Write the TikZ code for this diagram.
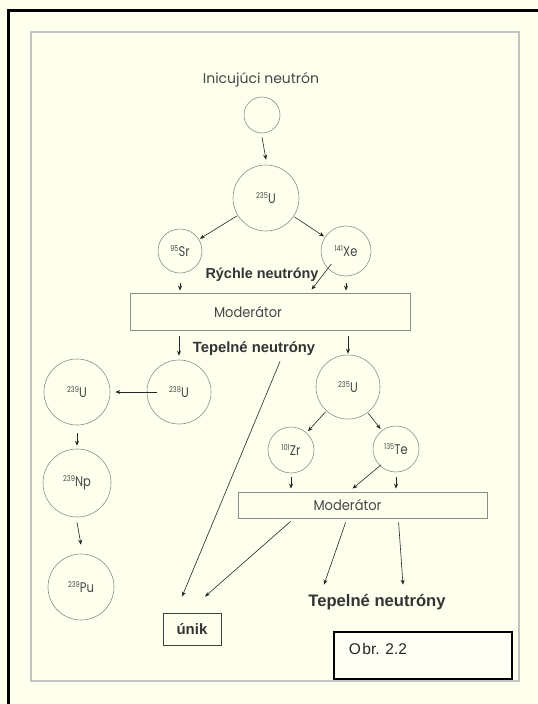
\documentclass[tikz,border=0pt]{standalone}
\usepackage{fontspec}
\setmainfont{Liberation Sans}
\newfontfamily\geo{Poppins}
\usetikzlibrary{arrows.meta,calc}
\definecolor{bgc}{RGB}{255,255,238}
\definecolor{circc}{RGB}{140,140,140}
\definecolor{framec}{RGB}{195,195,195}
\definecolor{txtc}{RGB}{70,70,70}
\newcommand\isot[2]{\scalebox{0.82}[1]{\raisebox{5pt}{\fontsize{8}{9}\selectfont #1}\kern0.2pt{\fontsize{14}{15}\selectfont #2}}}
\tikzset{
  circ/.style={circle,draw=circc,line width=0.6pt,inner sep=0pt,font=\geo,text=txtc},
  arr/.style={draw=black!85,line width=0.6pt,-{Stealth[length=5pt,width=4pt]}},
  modbox/.style={rectangle,draw=circc,line width=0.8pt,inner sep=0pt},
  modtxt/.style={font=\geo\fontsize{13}{14}\selectfont,text=txtc,yscale=1.1},
  boldtxt/.style={font=\bfseries\fontsize{14.4}{16}\selectfont,text=black!80},
  geolbl/.style={font=\geo\fontsize{14}{16}\selectfont,text=txtc}
}
\begin{document}
\begin{tikzpicture}[x=1pt,y=-1pt]
\useasboundingbox (0,0) rectangle (538,704);
\clip (0,0) rectangle (538,704);
\fill[bgc] (0,0) rectangle (538,704);
% outer black frame (right and bottom lie outside)
\draw[line width=3pt,black] (8.5,720) -- (8.5,10.5) -- (560,10.5);
% inner grey frame
\draw[framec,line width=1.2pt] (31,32) rectangle (519,681);

% nodes
\node[geolbl] (init) at (261,80) {Inicujúci neutrón};
\node[circ,minimum size=36pt] (n0) at (262,115) {};
\node[circ,minimum size=66pt] (u1) at (266,198) {\isot{235}{U}};
\node[circ,minimum size=44pt] (sr) at (180,251) {\isot{95}{Sr}};
\node[circ,minimum size=50pt] (xe) at (346,251) {\isot{141}{Xe}};
\node[boldtxt] (fast) at (262,275) {Rýchle neutróny};
\node[modbox,minimum width=280pt,minimum height=37pt] (mod1) at (270,311.5) {};
\node[modtxt] (mod1t) at ([xshift=-22pt]mod1.center) {Moderátor};
\node[boldtxt,font=\bfseries\fontsize{14.8}{16}\selectfont] (tep1) at (254,349) {Tepelné neutróny};
\node[circ,minimum size=64pt] (u238) at (179,392) {\isot{238}{U}};
\node[circ,minimum size=66pt] (u239) at (77,392) {\isot{239}{U}};
\node[circ,minimum size=64pt] (u2) at (348,387) {\isot{235}{U}};
\node[circ,minimum size=46pt] (zr) at (291,450) {\isot{101}{Zr}};
\node[circ,minimum size=46pt] (te) at (396,449) {\isot{135}{Te}};
\node[circ,minimum size=68pt] (np) at (77,483) {\isot{239}{Np}};
\node[circ,minimum size=66pt] (pu) at (81,587) {\isot{239}{Pu}};
\node[modbox,minimum width=249pt,minimum height=26pt] (mod2) at (362.5,505) {};
\node[modtxt] (mod2t) at ([xshift=-15pt]mod2.center) {Moderátor};
\node[font=\bfseries\fontsize{16.6}{18}\selectfont,text=black!80] (tep2) at (377,602) {Tepelné neutróny};
\node[rectangle,draw=black!75,line width=0.8pt,minimum width=58pt,minimum height=32pt,font=\bfseries\fontsize{15}{17}\selectfont,text=black!80] (unik) at (192,629) {únik};
\node[rectangle,draw=black,line width=1.3pt,minimum width=178pt,minimum height=47pt,fill=bgc!60!white] (obr) at (423,655.5) {};
\node[anchor=west,font=\fontsize{15.5}{17}\selectfont,text=black!85] (obrt) at ([xshift=12pt,yshift=-18pt]obr.north west) {O\kern1.5pt br. 2.2};

% connectors
\draw[arr] ([yshift=-4pt]n0.south) -- ([yshift=5pt]u1.north);
\draw[arr,shorten <=1pt,shorten >=1pt] (u1) -- (sr);
\draw[arr,shorten <=1pt,shorten >=1pt] (u1) -- (xe);
\draw[arr] ([yshift=-10pt]sr.south) -- ([yshift=2pt]sr.south |- mod1.north);
\draw[arr] ([yshift=-7pt]xe.south) -- ([yshift=2pt]xe.south |- mod1.north);
\coordinate (fastend) at ([xshift=182pt,yshift=3pt]mod1.north west);
\draw[arr] (xe.-128) ++(1pt,7pt) -- (fastend);
\draw[arr] ([yshift=-6pt]mod1.south -| u238.north) -- ([yshift=4pt]u238.north);
\draw[arr] ([yshift=-6pt]mod1.south -| u2.north) -- ([yshift=1pt]u2.north);
\draw[arr] ([xshift=10pt]u238.west) -- ([xshift=5pt]u239.east);
\draw[arr,shorten <=1pt,shorten >=2pt] (u2) -- (zr);
\draw[arr,shorten <=1pt,shorten >=2pt] (u2) -- (te);
\draw[arr] ([yshift=-8pt]u239.south) -- ([yshift=3pt]np.north);
\draw[arr] ([yshift=-5pt]np.south) -- ([yshift=9pt]pu.north);
\draw[arr] ([yshift=-4pt]zr.south) -- ([yshift=3pt]zr.south |- mod2.north);
\draw[arr] ([yshift=-5pt]te.south) -- ([yshift=3pt]te.south |- mod2.north);
\coordinate (teend) at ([xshift=115pt,yshift=3pt]mod2.north west);
\draw[arr] (te.-130) ++(0pt,2pt) -- (teend);
\draw[arr] ([xshift=26pt,yshift=-2pt]tep1.south) -- ([xshift=-10pt,yshift=16pt]unik.north);
\draw[arr] ([xshift=53pt,yshift=-3pt]mod2.south west) -- ([xshift=13pt,yshift=16pt]unik.north);
\draw[arr] ([xshift=108pt,yshift=-4pt]mod2.south west) -- ([xshift=-53pt,yshift=6pt]tep2.north);
\draw[arr] ([xshift=161pt,yshift=-4pt]mod2.south west) -- ([xshift=26pt,yshift=6pt]tep2.north);
\end{tikzpicture}
\end{document}
